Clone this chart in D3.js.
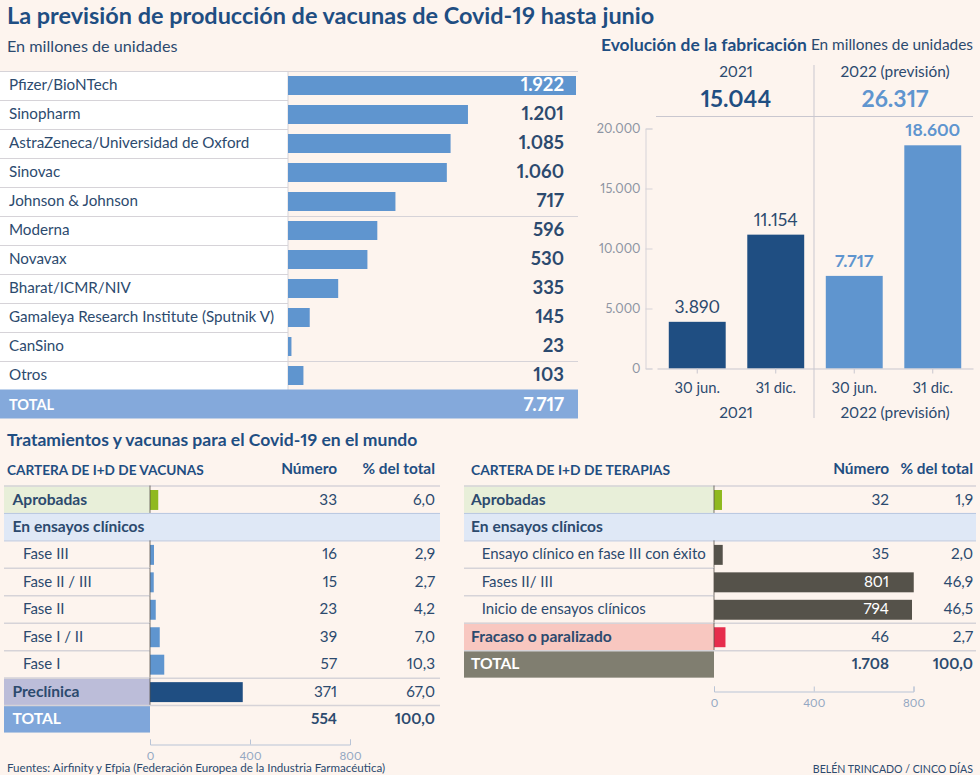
<!doctype html>
<html>
<head>
<meta charset="utf-8">
<style>
    html, body { margin: 0; padding: 0; background: #fdf4ee; }
    svg { display: block; font-family: Lato, sans-serif; font-feature-settings: "pnum"; font-variant-numeric: proportional-nums; }
    .axis text { font-family: Lato, sans-serif; }
</style>
</head>
<body>
<svg id="chart" width="980" height="775"></svg>
<script src="https://cdnjs.cloudflare.com/ajax/libs/d3/7.8.5/d3.min.js"></script>
<script>
// top table
var vacunas = ['Pfizer/BioNTech', 'Sinopharm', 'AstraZeneca/Universidad de Oxford', 'Sinovac', 'Johnson & Johnson', 'Moderna', 'Novavax', 'Bharat/ICMR/NIV', 'Gamaleya Research Institute (Sputnik V)', 'CanSino', 'Otros'];
var unidades = [1922, 1201, 1085, 1060, 717, 596, 530, 335, 145, 23, 103];
var totalUnidades = 7717;

// fabrication chart
var periodos = ['30 jun.', '31 dic.', '30 jun.', '31 dic.'];
var fabricacion = [3890, 11154, 7717, 18600];
var anios = ['2021', '2022 (previsión)'];
var totalesAnio = [15044, 26317];
var yTicks = [0, 5000, 10000, 15000, 20000];

// vaccine pipeline
var carteraVacunas = ['Aprobadas', 'En ensayos clínicos', 'Fase III', 'Fase II / III', 'Fase II', 'Fase I / II', 'Fase I', 'Preclínica', 'TOTAL'];
var tiposVacunas = ['aprobada', 'grupo', 'fase', 'fase', 'fase', 'fase', 'fase', 'preclinica', 'total'];
var numeroVacunas = [33, null, 16, 15, 23, 39, 57, 371, 554];
var pctVacunas = [6.0, null, 2.9, 2.7, 4.2, 7.0, 10.3, 67.0, 100.0];

// therapy pipeline
var carteraTerapias = ['Aprobadas', 'En ensayos clínicos', 'Ensayo clínico en fase III con éxito', 'Fases II/ III', 'Inicio de ensayos clínicos', 'Fracaso o paralizado', 'TOTAL'];
var tiposTerapias = ['aprobada', 'grupo', 'fase', 'fase', 'fase', 'fracaso', 'total'];
var numeroTerapias = [32, null, 35, 801, 794, 46, 1708];
var pctTerapias = [1.9, null, 2.0, 46.9, 46.5, 2.7, 100.0];

var escalaTicks = [0, 400, 800];

var navy = '#1f4e82', ink = '#2c4a6e', blue = '#5f95cf', grey = '#d6d3d8', tick = '#8d94a3';

var es = d3.formatLocale({ decimal: ',', thousands: '.', grouping: [3], currency: ['', ''] });
var fmtN = es.format(',d');
var fmtP = es.format(',.1f');

var svg = d3.select('#chart');

function label(x, y, str, size, color, weight, anchor) {
    return svg.append('text')
        .attr('x', x).attr('y', y).attr('dy', '.35em')
        .attr('font-size', size).attr('fill', color)
        .attr('font-weight', weight || 400)
        .attr('text-anchor', anchor || 'start')
        .text(str);
}

function hline(x1, x2, y, color, w) {
    svg.append('line').attr('x1', x1).attr('x2', x2).attr('y1', y).attr('y2', y)
        .attr('stroke', color || grey).attr('stroke-width', w || 1);
}

function vline(x, y1, y2, color, w) {
    svg.append('line').attr('x1', x).attr('x2', x).attr('y1', y1).attr('y2', y2)
        .attr('stroke', color || grey).attr('stroke-width', w || 1);
}

label(7, 16, 'La previsión de producción de vacunas de Covid-19 hasta junio', 23.45, navy, 700);
label(7, 46, 'En millones de unidades', 16.2, ink);

// ---- top table
var xTop = d3.scaleLinear().domain([0, 1922]).range([288, 576]);
var yTop = d3.scaleBand().domain(vacunas).range([71, 390]);

svg.append('rect').attr('x', 0).attr('y', 71).attr('width', 288).attr('height', 319).attr('fill', '#fff');
vline(288, 71, 390);

svg.selectAll('.barTop').data(unidades).enter().append('rect')
    .attr('class', 'barTop')
    .attr('x', xTop(0))
    .attr('y', function(d, i) { return yTop(vacunas[i]) + 5; })
    .attr('width', function(d) { return xTop(d) - xTop(0); })
    .attr('height', yTop.bandwidth() - 10)
    .attr('fill', blue);

vacunas.forEach(function(name, i) {
    var y = yTop(name);
    var wide = i === 0 || i === 5 || i === 10;
    hline(0, wide ? 578 : 288, y + 0.5);
    label(9, y + 13.5, name, 15.2, ink);
    label(564, y + 14, fmtN(unidades[i]), 18.5, i === 0 ? '#fff' : ink, 700, 'end');
});

svg.append('rect').attr('x', 0).attr('y', 389.5).attr('width', 578).attr('height', 29).attr('fill', '#84a9db');
label(9, 404.5, 'TOTAL', 14.5, '#fff', 700);
label(564, 404.5, fmtN(totalUnidades), 18.5, '#fff', 700, 'end');

// ---- fabrication chart
label(601, 45, 'Evolución de la fabricación', 17.4, navy, 700);
label(973, 45, 'En millones de unidades', 15.4, ink, 400, 'end');

var xBar = d3.scaleBand().domain(d3.range(periodos.length)).range([657, 973]).paddingInner(0.275).paddingOuter(0.15);
var yBar = d3.scaleLinear().domain([0, 20000]).range([368.5, 128.5]);

svg.selectAll('.barFab').data(fabricacion).enter().append('rect')
    .attr('class', 'barFab')
    .attr('x', function(d, i) { return xBar(i); })
    .attr('y', function(d) { return yBar(d); })
    .attr('width', xBar.bandwidth())
    .attr('height', function(d) { return yBar(0) - yBar(d); })
    .attr('fill', function(d, i) { return i < 2 ? navy : blue; });

fabricacion.forEach(function(d, i) {
    label(xBar(i) + xBar.bandwidth() / 2, yBar(d) - 15, fmtN(d), 17.5, i < 2 ? ink : blue, i < 2 ? 400 : 700, 'middle');
});

var gy = svg.append('g').attr('class', 'axis').attr('transform', 'translate(645.5,0)')
    .call(d3.axisRight(yBar).tickValues(yTicks).tickSize(7).tickFormat(fmtN));
gy.selectAll('path, line').attr('stroke', grey);
gy.selectAll('text').attr('x', -5).attr('text-anchor', 'end').attr('font-size', 12.8).attr('fill', tick);

var gx = svg.append('g').attr('class', 'axis').attr('transform', 'translate(0,368.5)')
    .call(d3.axisBottom(xBar).tickSize(5).tickSizeOuter(0).tickPadding(9).tickFormat(function(i) { return periodos[i]; }));
gx.selectAll('path, line').attr('stroke', '#c9c7cf');
gx.selectAll('text').attr('font-size', 14.8).attr('fill', ink);

var yearCenter = [736, 895];
anios.forEach(function(a, i) {
    label(yearCenter[i], 72, a, 15.4, ink, 400, 'middle');
    label(yearCenter[i], 99, fmtN(totalesAnio[i]), 23, i === 0 ? navy : blue, 700, 'middle');
    label(yearCenter[i], 413, a, 15.4, ink, 400, 'middle');
});
hline(656, 973, 116.5, '#c9c7cf');
vline(814, 65, 418, '#c9c7cf');

// ---- bottom tables
label(7, 440, 'Tratamientos y vacunas para el Covid-19 en el mundo', 17.55, navy, 700);

var panelFill = { aprobada: '#e8efd9', preclinica: '#bcbdd9', fracaso: '#f8c7c0' };
var barFill = { aprobada: '#8fb91f', preclinica: navy, fracaso: '#e62d4c' };

function drawTable(o) {
    var n = o.labels.length;
    var yRow = d3.scaleBand().domain(d3.range(n)).range([485.5, 485.5 + n * 27.45]);
    var x = d3.scaleLinear().domain([0, 800]).range([o.x0, o.x800]);
    var h = yRow.bandwidth();

    label(o.titleX, 470, o.title, o.titleSize, navy, 700);
    label(o.colN, 469, 'Número', 15.4, navy, 700, 'end');
    label(o.colP, 469, '% del total', 15.4, navy, 700, 'end');

    // panels behind the labels
    o.labels.forEach(function(name, i) {
        var tipo = o.tipos[i], y = yRow(i);
        var fill = tipo === 'total' ? o.totalFill : panelFill[tipo];
        if (tipo === 'grupo') {
            svg.append('rect').attr('x', o.left).attr('y', y).attr('width', o.right - o.left).attr('height', h).attr('fill', '#dfe8f6');
        } else if (fill) {
            svg.append('rect').attr('x', o.left).attr('y', y).attr('width', o.x0 - o.left).attr('height', h).attr('fill', fill);
        }
    });

    svg.append('g').selectAll('rect')
        .data(d3.range(n).filter(function(i) { return o.numeros[i] !== null && o.tipos[i] !== 'total'; }))
        .enter().append('rect')
        .attr('x', o.x0)
        .attr('y', function(i) { return yRow(i) + 4.5; })
        .attr('width', function(i) { return x(o.numeros[i]) - x(0); })
        .attr('height', h - 7.5)
        .attr('fill', function(i) { return barFill[o.tipos[i]] || o.faseFill; });

    o.labels.forEach(function(name, i) {
        var tipo = o.tipos[i], prev = o.tipos[i - 1], y = yRow(i), cy = y + h / 2;
        var inner = tipo === 'fase' && prev === 'fase';
        var blueLine = tipo === 'grupo' || prev === 'grupo';
        hline(o.left, inner ? o.x0 : o.right, y + 0.5, blueLine ? '#b9c7e0' : grey, blueLine ? 1 : 1.5);
        if (tipo !== 'total' && tipo !== 'grupo') vline(o.x0, y, y + h, '#55524a', 0.8);

        if (tipo === 'fase') label(o.faseX, cy, name, 15, ink);
        else label(o.labelX, cy, name, 15.6, tipo === 'total' ? '#fff' : ink, 700);

        if (o.numeros[i] !== null) {
            var inside = x(o.numeros[i]) > o.colN && tipo !== 'total';
            label(o.colN, cy, fmtN(o.numeros[i]), 15.3, inside ? '#fff' : ink, tipo === 'total' ? 700 : 400, 'end');
            label(o.colP, cy, fmtP(o.pcts[i]), 15.3, ink, tipo === 'total' ? 700 : 400, 'end');
        }
    });

    var g = svg.append('g').attr('class', 'axis').attr('transform', 'translate(0,' + o.axisY + ')')
        .call(d3.axisTop(x).tickValues(escalaTicks).tickSize(5));
    g.selectAll('path, line').attr('stroke', '#b9c4d6');
    g.selectAll('text').attr('y', 11).attr('dy', '.35em').attr('font-size', 11.5).attr('fill', '#93a7c2');
}

drawTable({
    title: 'CARTERA DE I+D DE VACUNAS', titleX: 7, titleSize: 13.65,
    labels: carteraVacunas, tipos: tiposVacunas, numeros: numeroVacunas, pcts: pctVacunas,
    left: 4, right: 440, x0: 150, x800: 350, colN: 337, colP: 435, labelX: 12.5, faseX: 23,
    faseFill: blue, totalFill: '#7fa6da', axisY: 744.5
});

drawTable({
    title: 'CARTERA DE I+D DE TERAPIAS', titleX: 471, titleSize: 13.85,
    labels: carteraTerapias, tipos: tiposTerapias, numeros: numeroTerapias, pcts: pctTerapias,
    left: 464, right: 976, x0: 714, x800: 913.5, colN: 889, colP: 973, labelX: 471, faseX: 481.7,
    faseFill: '#55524a', totalFill: '#807e70', axisY: 691.5
});

label(7, 768, 'Fuentes: Airfinity y Efpia (Federación Europea de la Industria Farmacéutica)', 11.6, ink);
label(973, 769, 'BELÉN TRINCADO / CINCO DÍAS', 10.6, ink, 400, 'end');
</script>
</body>
</html>
